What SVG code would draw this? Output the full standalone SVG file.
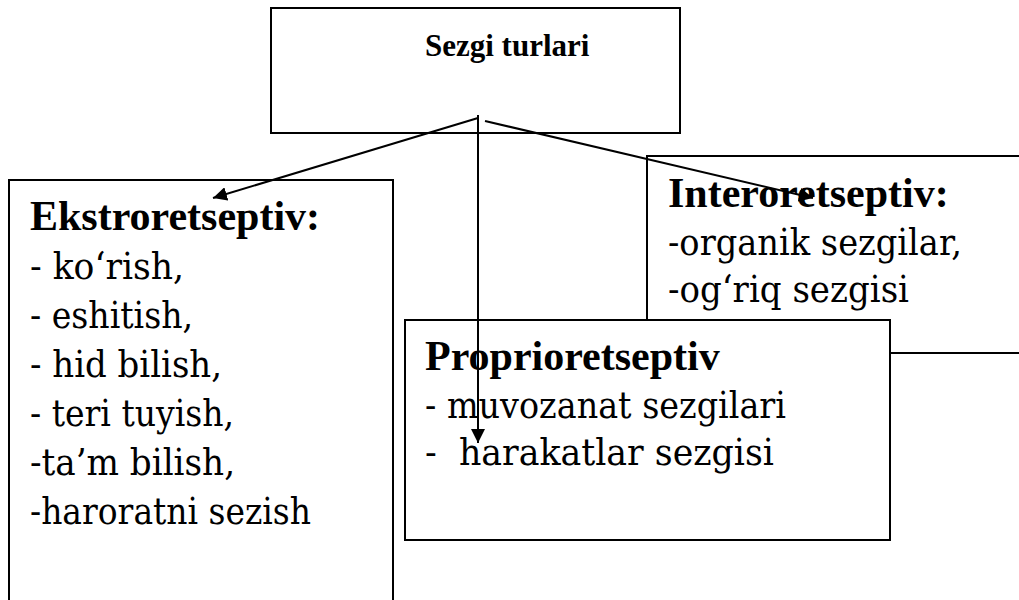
<svg xmlns="http://www.w3.org/2000/svg" width="1019" height="600" viewBox="0 0 1019 600">
<defs>
<style>
.box{fill:#fff;stroke:#000;stroke-width:2}
.c{stroke:#000;stroke-width:2;fill:none}
.h{font-family:'Liberation Serif','Times New Roman',serif;font-size:42px;font-weight:bold;fill:#000}
.ttl{font-family:'Liberation Serif','Times New Roman',serif;font-size:31px;font-weight:bold;fill:#000}
.r{font-family:'DejaVu Serif',serif;font-size:38px;fill:#000}
</style>
<marker id="ah" viewBox="0 0 10 10" refX="10" refY="5" markerWidth="14" markerHeight="14" markerUnits="userSpaceOnUse" orient="auto">
<path d="M0,0 L10,5 L0,10 z" fill="#000"/>
</marker>
</defs>
<rect width="1019" height="600" fill="#fff"/>
<g id="sezgi-turlari">
<rect class="box" x="271" y="8" width="409" height="125"/>
<text class="ttl" x="425" y="56">Sezgi turlari</text>
</g>
<g id="ekstroretseptiv">
<rect class="box" x="9" y="180" width="384" height="450"/>
<text class="h" x="30" y="230">Ekstroretseptiv:</text>
<text class="r" x="30" y="279" textLength="154" lengthAdjust="spacingAndGlyphs">- ko‘rish,</text>
<text class="r" x="30" y="328" textLength="163" lengthAdjust="spacingAndGlyphs">- eshitish,</text>
<text class="r" x="30" y="377" textLength="192" lengthAdjust="spacingAndGlyphs">- hid bilish,</text>
<text class="r" x="30" y="426" textLength="204" lengthAdjust="spacingAndGlyphs">- teri tuyish,</text>
<text class="r" x="30" y="475" textLength="205" lengthAdjust="spacingAndGlyphs">-ta’m bilish,</text>
<text class="r" x="30" y="524" textLength="281" lengthAdjust="spacingAndGlyphs">-haroratni sezish</text>
</g>
<g id="interoretseptiv">
<rect class="box" x="647" y="156" width="400" height="197"/>
<text class="h" x="668" y="207">Interoretseptiv:</text>
<text class="r" x="668" y="255" textLength="294" lengthAdjust="spacingAndGlyphs">-organik sezgilar,</text>
<text class="r" x="668" y="302" textLength="241" lengthAdjust="spacingAndGlyphs">-og‘riq sezgisi</text>
</g>
<g id="proprioretseptiv">
<rect class="box" x="405" y="320" width="485" height="220"/>
<text class="h" x="425" y="370">Proprioretseptiv</text>
<text class="r" x="425" y="418" textLength="361" lengthAdjust="spacingAndGlyphs">- muvozanat sezgilari</text>
<text class="r" x="425" y="465" textLength="349" lengthAdjust="spacingAndGlyphs" xml:space="preserve">-  harakatlar sezgisi</text>
</g>
<g id="connectors">
<line class="c" x1="478" y1="118" x2="213" y2="198" marker-end="url(#ah)"/>
<line class="c" x1="478" y1="115" x2="478" y2="443" marker-end="url(#ah)"/>
<line class="c" x1="485" y1="121" x2="813" y2="198" marker-end="url(#ah)"/>
</g>
</svg>
